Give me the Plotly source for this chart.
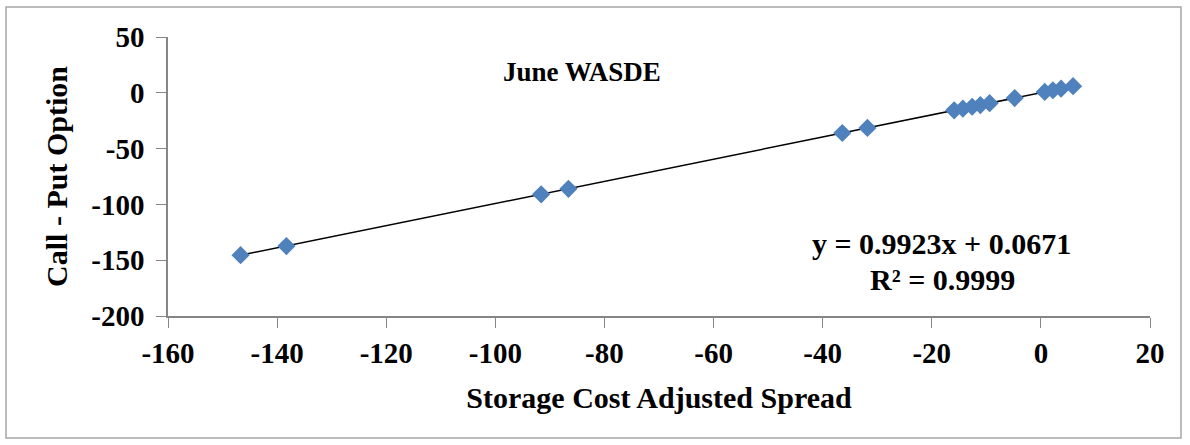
import plotly.graph_objects as go

# Data
spread = [-146.7, -138.3, -91.6, -86.6, -36.4, -31.8, -15.9, -14.3, -12.6,
          -11.1, -9.4, -4.8, 0.7, 2.2, 3.7, 5.9]
call_put = [-145.5, -137.3, -91.0, -86.0, -36.0, -31.5, -15.7, -14.2, -12.5,
            -11.0, -9.3, -4.7, 0.8, 2.3, 3.7, 5.9]
slope = 0.9923
intercept = 0.0671
r2 = 0.9999

x_ticks = [-160, -140, -120, -100, -80, -60, -40, -20, 0, 20]
y_ticks = [50, 0, -50, -100, -150, -200]

font_family = "Liberation Serif, Times New Roman, serif"

fig = go.Figure()

# trendline from the fit coefficients
tx = [min(spread), max(spread)]
ty = [slope * v + intercept for v in tx]
fig.add_trace(go.Scatter(x=tx, y=ty, mode="lines",
                         line=dict(color="black", width=1.5),
                         showlegend=False, hoverinfo="skip"))

fig.add_trace(go.Scatter(x=spread, y=call_put, mode="markers",
                         marker=dict(symbol="diamond", size=14, color="#4F81BD"),
                         showlegend=False))

tick_font = dict(family=font_family, size=29, color="black", weight="bold")

fig.update_layout(
    width=1190, height=445,
    margin=dict(l=168, r=40, t=37, b=129),
    paper_bgcolor="white", plot_bgcolor="white",
    font=dict(family=font_family, size=20, color="black"),
    xaxis=dict(range=[-160, 20], tickvals=x_ticks,
               ticktext=[str(v) for v in x_ticks],
               showgrid=False, zeroline=False, showline=True,
               linecolor="#868686", linewidth=1.5, ticks="outside",
               ticklen=10, tickcolor="#868686", ticklabelstandoff=0,
               tickfont=tick_font,
               title=dict(text="<b>Storage Cost Adjusted Spread</b>",
                          font=dict(family=font_family, size=30), standoff=19)),
    yaxis=dict(range=[-200, 50], tickvals=y_ticks,
               ticktext=[str(v) for v in y_ticks],
               showgrid=False, zeroline=False, showline=True,
               linecolor="#868686", linewidth=1.5, ticks="outside",
               ticklen=10, tickcolor="#868686", ticklabelstandoff=6,
               tickfont=tick_font,
               title=dict(text="<b>Call - Put Option</b>",
                          font=dict(family=font_family, size=30), standoff=15)),
    shapes=[dict(type="rect", xref="paper", yref="paper",
                 x0=(6 - 168) / 982, x1=(1181 - 168) / 982,
                 y0=(316 - 438) / 279, y1=1 + (37 - 7) / 279,
                 line=dict(color="#A6A6A6", width=1.5), layer="below")],
    annotations=[
        dict(text="<b>June WASDE</b>", x=-84.1, y=18.8, xref="x", yref="y",
             showarrow=False, font=dict(family=font_family, size=27)),
        dict(text="<b>y = %.4fx + %.4f</b>" % (slope, intercept), x=-18.3, y=-135.3,
             xref="x", yref="y", showarrow=False,
             font=dict(family=font_family, size=30)),
        dict(text="<b>R² = %.4f</b>" % r2, x=-18.1, y=-167.6,
             xref="x", yref="y", showarrow=False,
             font=dict(family=font_family, size=30)),
    ],
)

fig.write_html("out.html", config={"displayModeBar": False},
               post_script="document.body.style.margin='0';")
